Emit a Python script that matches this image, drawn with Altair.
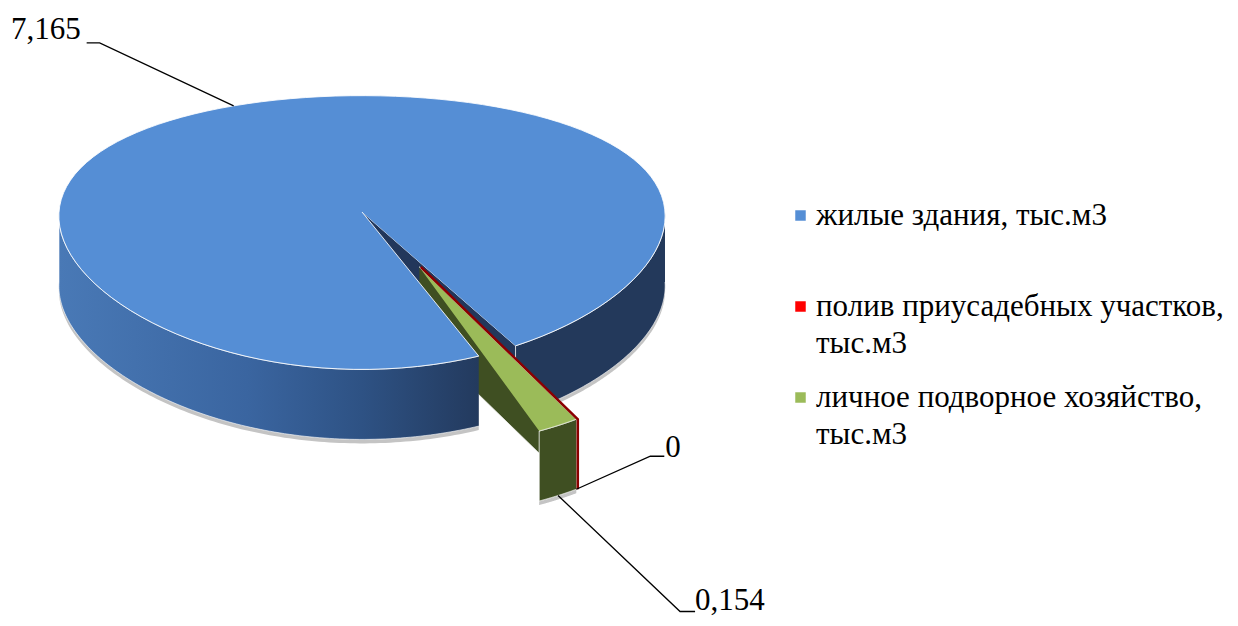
import altair as alt
import pandas as pd

# ---------------- data ----------------
categories = ["жилые здания, тыс.м3",
              "полив приусадебных участков, тыс.м3",
              "личное подворное хозяйство, тыс.м3"]
values = [7.165, 0.0, 0.154]
value_labels = ["7,165", "0", "0,154"]

# ---------------- style / layout ----------------
top_colors = ["#558ED5", "#FF0000", "#9BBB59"]
explode = [0.0, 0.43, 0.43]          # fraction of the radius
anchor_bottom = [0, 1, 1]            # leader starts at the lower rim
leader_dx = [-134, 74, 122]
leader_dy = [-63, -33, 116]
leader_tick = [-13, 14, 15]
text_gap = [-6, 1, 0]
text_dy = [-4, 1, -2]

W, H, PAGE = 1222, 610, 8
CX, AY = 362, 212          # screen position of the pie centre
B, Q = 303, 0.03           # horizontal radius / perspective
A, P = 133.8, 0.15         # vertical radius / perspective
DEPTH = 70
START = 158                # first slice angle (degrees, clockwise from 12 o'clock)
N = 120
FONT = "Liberation Serif"

src = pd.DataFrame({
    "idx": list(range(len(categories))),
    "cat": categories,
    "value": values,
    "vlabel": value_labels,
    "explode": explode,
    "abot": anchor_bottom,
    "ldx": leader_dx,
    "ldy": leader_dy,
    "tick": leader_tick,
    "tgap": text_gap,
    "tdy": text_dy,
})


def sx(u, v):
    return f"{CX} + {B}*({u})/(1 - {Q}*({v}))"


def sy(u, v):
    return f"{AY} + {A}*({v})/(1 - {P}*({v}))"


def base():
    return (alt.Chart(src)
            .transform_joinaggregate(total="sum(value)")
            .transform_window(cum="sum(value)", sort=[alt.SortField("idx")])
            .transform_calculate(a0=f"{START} + 360*(datum.cum - datum.value)/datum.total")
            .transform_calculate(a1=f"{START} + 360*datum.cum/datum.total")
            .transform_calculate(mid="(datum.a0 + datum.a1)/2")
            .transform_window(next_mid="lead(mid)", sort=[alt.SortField("idx")])
            .transform_calculate(eang="(datum.value > 0 || datum.next_mid == null) ? datum.mid : datum.next_mid")
            .transform_calculate(eu="datum.explode*sin(datum.eang*PI/180)")
            .transform_calculate(ev="-datum.explode*cos(datum.eang*PI/180)"))


xs = alt.Scale(domain=[PAGE, PAGE + W], nice=False, zero=False)
ys = alt.Scale(domain=[PAGE, PAGE + H], nice=False, zero=False, reverse=True)


def X(f):
    return alt.X(f"{f}:Q", scale=xs, axis=None)


def Y(f):
    return alt.Y(f"{f}:Q", scale=ys, axis=None)


color = alt.Color(
    "cat:N", title=None,
    scale=alt.Scale(domain=categories, range=top_colors),
    legend=alt.Legend(
        orient="none", legendX=777, legendY=192, padding=0,
        symbolType="square", symbolSize=110, symbolStrokeWidth=0,
        labelFont=FONT, labelFontSize=31, labelColor="black", labelLimit=700,
        labelOffset=0, rowPadding=22,
        labelExpr="length(datum.label) > 24 ? [slice(datum.label, 0, lastindexof(datum.label, ' ')), "
                  "slice(datum.label, lastindexof(datum.label, ' ') + 1)] : [datum.label, '']",
    ),
)


def top_face(flt):
    return (base().transform_filter(flt)
            .transform_calculate(k=f"sequence(0, {N + 2})")
            .transform_flatten(["k"])
            .transform_calculate(ang=f"(datum.a0 + (datum.a1 - datum.a0)*max(datum.k - 1, 0)/{N})*PI/180")
            .transform_calculate(u="datum.eu + (datum.k == 0 ? 0 : sin(datum.ang))")
            .transform_calculate(v="datum.ev - (datum.k == 0 ? 0 : cos(datum.ang))")
            .transform_calculate(px=sx("datum.u", "datum.v"))
            .transform_calculate(py=sy("datum.u", "datum.v"))
            .mark_line(filled=True, stroke="#FFFFFF", strokeWidth=1, strokeOpacity=0.85)
            .encode(x=X("px"), y=Y("py"), color=color, order=alt.Order("k:Q")))


def wall(flt, fill, depth=DEPTH, stroke_opacity=0.6):
    # front (visible) part of the outer wall: top arc lo->hi, then bottom arc hi->lo
    return (base()
            .transform_calculate(piece="[0, 1]")
            .transform_flatten(["piece"])
            .transform_calculate(lo="datum.piece == 0 ? max(datum.a0, 90) : max(datum.a0, 450)")
            .transform_calculate(hi="datum.piece == 0 ? min(datum.a1, 270) : min(datum.a1, 630)")
            .transform_filter("datum.hi > datum.lo")
            .transform_filter(flt)
            .transform_calculate(k=f"sequence(0, {2 * N + 2})")
            .transform_flatten(["k"])
            .transform_calculate(t=f"datum.k <= {N} ? datum.k/{N} : 1 - (datum.k - {N + 1})/{N}")
            .transform_calculate(ang="(datum.lo + (datum.hi - datum.lo)*datum.t)*PI/180")
            .transform_calculate(u="datum.eu + sin(datum.ang)")
            .transform_calculate(v="datum.ev - cos(datum.ang)")
            .transform_calculate(px=sx("datum.u", "datum.v"))
            .transform_calculate(py=sy("datum.u", "datum.v") + f" + (datum.k > {N} ? {depth} : 0)")
            .mark_line(filled=True, color=fill, stroke="#FFFFFF", strokeWidth=1,
                       strokeOpacity=stroke_opacity)
            .encode(x=X("px"), y=Y("py"), detail=["cat:N", "piece:N"], order=alt.Order("k:Q")))


def cut_face(flt, edge, fill):
    return (base().transform_filter(flt)
            .transform_calculate(k="[0, 1, 2, 3]")
            .transform_flatten(["k"])
            .transform_calculate(ang=f"datum.{edge}*PI/180")
            .transform_calculate(r="(datum.k == 1 || datum.k == 2) ? 1 : 0")
            .transform_calculate(u="datum.eu + datum.r*sin(datum.ang)")
            .transform_calculate(v="datum.ev - datum.r*cos(datum.ang)")
            .transform_calculate(px=sx("datum.u", "datum.v"))
            .transform_calculate(py=sy("datum.u", "datum.v") + f" + (datum.k >= 2 ? {DEPTH} : 0)")
            .mark_line(filled=True, color=fill, stroke="#FFFFFF", strokeWidth=1, strokeOpacity=0.7)
            .encode(x=X("px"), y=Y("py"), order=alt.Order("k:Q")))


gradient = alt.LinearGradient(
    gradient="linear", x1=0, x2=1, y1=0, y2=0,
    stops=[alt.GradientStop(color="#4979B6", offset=0),
           alt.GradientStop(color="#3A65A0", offset=0.45),
           alt.GradientStop(color="#2E5284", offset=0.72),
           alt.GradientStop(color="#233A5E", offset=1)],
)

shadow = wall("datum.value > 0", "#C4C4C4", depth=DEPTH + 4, stroke_opacity=0)
blue_cut = cut_face("datum.idx == 0", "a1", "#22375B")
green_cut = cut_face("datum.idx == 2", "a0", "#3F4F22")
blue_wall_left = wall("datum.idx == 0 && datum.piece == 0", gradient)
blue_wall_right = wall("datum.idx == 0 && datum.piece == 1", "#23395B")
green_wall = wall("datum.idx == 2", "#3F4F22", stroke_opacity=0.8)
blue_top = top_face("datum.idx == 0")
green_top = top_face("datum.idx == 2")

red_edge = (base().transform_filter("datum.value == 0")
            .transform_calculate(k="[0, 1, 2]")
            .transform_flatten(["k"])
            .transform_calculate(ang="datum.a0*PI/180")
            .transform_calculate(r="datum.k >= 1 ? 1 : 0")
            .transform_calculate(u="datum.eu + datum.r*sin(datum.ang)")
            .transform_calculate(v="datum.ev - datum.r*cos(datum.ang)")
            .transform_calculate(px=sx("datum.u", "datum.v") + " + 1.5")
            .transform_calculate(py=sy("datum.u", "datum.v") + f" + (datum.k == 2 ? {DEPTH} : 0)")
            .mark_line(color="#8B0000", strokeWidth=2.5)
            .encode(x=X("px"), y=Y("py"), detail="cat:N", order=alt.Order("k:Q")))


def anchored():
    return (base()
            .transform_calculate(au="datum.eu + sin(datum.mid*PI/180)")
            .transform_calculate(av="datum.ev - cos(datum.mid*PI/180)")
            .transform_calculate(ax=sx("datum.au", "datum.av"))
            .transform_calculate(ay=sy("datum.au", "datum.av") + f" + datum.abot*{DEPTH}"))


leaders = (anchored()
           .transform_calculate(k="[0, 1, 2]")
           .transform_flatten(["k"])
           .transform_calculate(px="datum.k == 0 ? datum.ax : datum.ax + datum.ldx + (datum.k == 2 ? datum.tick : 0)")
           .transform_calculate(py="datum.k == 0 ? datum.ay : datum.ay + datum.ldy")
           .mark_line(color="black", strokeWidth=1.3)
           .encode(x=X("px"), y=Y("py"), detail="cat:N", order=alt.Order("k:Q")))


def label_text(flt, align):
    return (anchored().transform_filter(flt)
            .transform_calculate(tx="datum.ax + datum.ldx + datum.tick + datum.tgap")
            .transform_calculate(ty="datum.ay + datum.ldy + datum.tdy")
            .mark_text(align=align, baseline="alphabetic", font=FONT, fontSize=31, color="black")
            .encode(x=X("tx"), y=Y("ty"), text="vlabel:N"))


chart = alt.layer(
    shadow,
    blue_cut,
    blue_wall_right,
    green_cut,
    blue_wall_left,
    blue_top,
    green_wall,
    green_top,
    red_edge,
    leaders,
    label_text("datum.tick < 0", "right"),
    label_text("datum.tick > 0", "left"),
).properties(
    width=W, height=H, padding=0, background="white",
    autosize=alt.AutoSizeParams(type="none"),
).configure(
    style={"guide-label": {"lineHeight": 37}}
).configure_view(
    strokeWidth=0
).configure_legend(
    labelFont=FONT
).configure_text(
    font=FONT
)

chart.save("out.html", embed_options={"renderer": "svg", "actions": False})
